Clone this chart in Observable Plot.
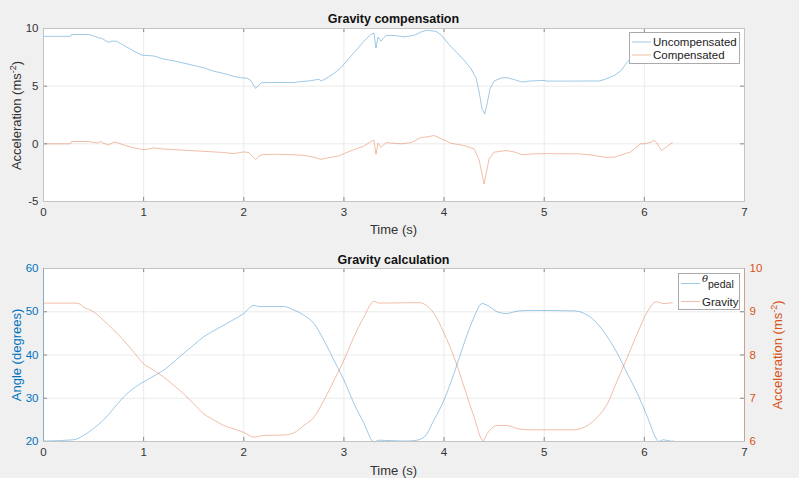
<!DOCTYPE html>
<html>
<head>
<meta charset="utf-8">
<script src="https://cdn.jsdelivr.net/npm/d3@7"></script>
<script src="https://cdn.jsdelivr.net/npm/@observablehq/plot@0.6"></script>
<style>
  html, body { margin: 0; padding: 0; background: #f0f0f0; }
  #chart { width: 799px; height: 478px; background: #f0f0f0; }
  #chart svg { display: block; }
</style>
</head>
<body>
<div id="chart"></div>
<script>
// ---------- Data ----------
const xTicks = [0, 1, 2, 3, 4, 5, 6, 7];
const topYTicks = [-5, 0, 5, 10];
const angleTicks = [20, 30, 40, 50, 60];
const gravityTicks = [6, 7, 8, 9, 10];

const uncompTime = [0, 0.27, 0.28, 0.45, 0.5, 0.55, 0.58, 0.62, 0.65, 0.68, 0.73, 0.78, 0.85, 0.92, 0.98, 1.05, 1.1, 1.2, 1.3, 1.4, 1.5, 1.6, 1.7, 1.8, 1.9, 1.97, 2.03, 2.07, 2.1, 2.12, 2.15, 2.18, 2.3, 2.5, 2.57, 2.65, 2.72, 2.75, 2.77, 2.82, 2.9, 2.97, 3.05, 3.12, 3.2, 3.27, 3.3, 3.32, 3.34, 3.37, 3.42, 3.5, 3.6, 3.7, 3.77, 3.83, 3.92, 3.97, 4.05, 4.13, 4.2, 4.27, 4.32, 4.35, 4.38, 4.405, 4.43, 4.46, 4.5, 4.57, 4.62, 4.7, 4.78, 4.85, 5.0, 5.02, 5.3, 5.55, 5.6, 5.7, 5.77, 5.83, 5.9, 5.97, 6.05, 6.12, 6.17, 6.24, 6.28];
const uncompValues = [9.32, 9.32, 9.48, 9.48, 9.35, 9.2, 9.15, 8.95, 8.8, 8.9, 8.9, 8.65, 8.3, 7.95, 7.7, 7.65, 7.62, 7.35, 7.2, 7.0, 6.8, 6.6, 6.3, 6.1, 5.85, 5.73, 5.7, 5.5, 5.05, 4.8, 5.1, 5.3, 5.32, 5.32, 5.4, 5.45, 5.55, 5.6, 5.45, 5.65, 6.1, 6.6, 7.4, 8.1, 8.9, 9.5, 9.6, 8.3, 9.25, 8.9, 9.4, 9.4, 9.28, 9.4, 9.7, 9.85, 9.75, 9.45, 8.6, 7.9, 7.25, 6.5, 5.7, 4.5, 3.0, 2.6, 3.5, 4.8, 5.45, 5.7, 5.75, 5.57, 5.35, 5.44, 5.5, 5.44, 5.44, 5.45, 5.57, 5.93, 6.36, 7.1, 7.7, 8.4, 8.9, 9.3, 8.8, 9.1, 9.3];

const compTime = [0, 0.27, 0.28, 0.45, 0.52, 0.55, 0.57, 0.6, 0.65, 0.7, 0.74, 0.8, 0.9, 1.0, 1.05, 1.1, 1.2, 1.3, 1.4, 1.5, 1.6, 1.7, 1.8, 1.9, 2.0, 2.05, 2.1, 2.12, 2.15, 2.18, 2.3, 2.5, 2.6, 2.72, 2.77, 2.85, 2.95, 3.0, 3.1, 3.2, 3.27, 3.3, 3.32, 3.34, 3.37, 3.42, 3.5, 3.57, 3.67, 3.77, 3.83, 3.9, 3.97, 4.07, 4.2, 4.3, 4.35, 4.4, 4.45, 4.5, 4.62, 4.7, 4.78, 4.88, 5.0, 5.35, 5.48, 5.6, 5.7, 5.8, 5.86, 5.96, 6.0, 6.06, 6.1, 6.13, 6.17, 6.24, 6.28];
const compValues = [0, 0, 0.2, 0.2, 0.1, 0.1, 0.22, 0.05, -0.1, 0.15, 0.1, -0.1, -0.35, -0.5, -0.45, -0.35, -0.45, -0.5, -0.55, -0.6, -0.65, -0.7, -0.75, -0.85, -0.7, -0.75, -1.2, -1.35, -1.1, -0.95, -0.9, -0.95, -1.0, -1.2, -1.35, -1.2, -1.05, -0.85, -0.5, -0.2, 0.2, 0.3, -0.9, 0.05, -0.3, 0.1, 0.05, 0, 0.1, 0.55, 0.6, 0.72, 0.45, 0.05, -0.15, -0.43, -1.4, -3.47, -1.3, -0.72, -0.58, -0.7, -0.95, -0.87, -0.85, -0.87, -0.98, -1.16, -1.16, -0.87, -0.72, 0, 0, 0.14, 0.3, 0.0, -0.58, -0.15, 0.1];

const angleTime = [0, 0.3, 0.4, 0.5, 0.6, 0.7, 0.8, 0.9, 1.0, 1.1, 1.2, 1.3, 1.4, 1.5, 1.6, 1.7, 1.8, 1.9, 2.0, 2.1, 2.15, 2.4, 2.5, 2.6, 2.7, 2.8, 2.9, 3.0, 3.1, 3.2, 3.3, 3.35, 3.6, 3.7, 3.8, 3.9, 4.0, 4.1, 4.2, 4.3, 4.38, 4.43, 4.53, 4.62, 4.75, 4.88, 5.3, 5.4, 5.53, 5.63, 5.73, 5.83, 5.93, 6.03, 6.12, 6.14, 6.19, 6.26, 6.29];
const angleValues = [20.1, 20.4, 21.4, 23, 25, 27.6, 30.3, 32.3, 33.8, 35.1, 36.5, 38.4, 40.4, 42.3, 44.2, 45.6, 46.9, 48.2, 49.6, 51.5, 51.2, 51.2, 50.4, 49.2, 47.3, 43.4, 38.8, 34.2, 28.8, 24.2, 19.9, 20.3, 20.1, 20.2, 21, 25, 29.6, 35.8, 42.7, 48.8, 51.9, 51.5, 50, 49.6, 50.2, 50.3, 50.2, 49.6, 47.3, 44.2, 40.4, 35.7, 31.1, 25.7, 20.6, 20, 20.4, 20.1, 20.1];

const gravityTime = [0, 0.3, 0.35, 0.4, 0.5, 0.6, 0.7, 0.8, 0.9, 1.0, 1.1, 1.2, 1.3, 1.4, 1.5, 1.6, 1.7, 1.8, 1.9, 2.0, 2.1, 2.2, 2.4, 2.5, 2.6, 2.7, 2.8, 2.9, 3.0, 3.1, 3.2, 3.3, 3.35, 3.75, 3.8, 3.9, 4.0, 4.1, 4.2, 4.3, 4.39, 4.43, 4.53, 4.62, 4.75, 4.88, 5.3, 5.4, 5.53, 5.63, 5.73, 5.83, 5.93, 6.03, 6.12, 6.19, 6.28];
const gravityValues = [9.2, 9.2, 9.19, 9.11, 9.0, 8.8, 8.58, 8.34, 8.07, 7.8, 7.65, 7.49, 7.3, 7.1, 6.87, 6.64, 6.5, 6.37, 6.29, 6.21, 6.1, 6.14, 6.15, 6.2, 6.37, 6.56, 6.95, 7.41, 7.88, 8.42, 8.88, 9.24, 9.2, 9.21, 9.18, 8.96, 8.5, 7.95, 7.26, 6.56, 6.02, 6.18, 6.37, 6.37, 6.29, 6.27, 6.27, 6.33, 6.56, 6.87, 7.41, 7.95, 8.5, 9.0, 9.23, 9.19, 9.21];

// ---------- Styling ----------
const BLUE = "#0072BD";
const ORANGE = "#D95319";
const FONT = "'Liberation Sans', Arial, Helvetica, sans-serif";
const TEXT = "#333333";
const GRID = "#ebebeb";
const BOX = "#c4c4c4";
const LINE_OP = 0.38;
const W = 799;

const uncomp = uncompTime.map((t, i) => ({t, v: uncompValues[i]}));
const comp = compTime.map((t, i) => ({t, v: compValues[i]}));
const angle = angleTime.map((t, i) => ({t, v: angleValues[i]}));
const gravity = gravityTime.map((t, i) => ({t, v: gravityValues[i]}));

// gravity (right axis 6..10) mapped onto the left axis range (20..60)
const gToA = g => angleTicks[0] + (g - gravityTicks[0]) * (angleTicks[4] - angleTicks[0]) / (gravityTicks[4] - gravityTicks[0]);
const fmt = d => String(d);

function inwardTicks(innerH, innerW, yt) {
  return [
    Plot.tickX(xTicks, {x: d => d, insetTop: innerH - 4, stroke: "#888"}),
    Plot.tickX(xTicks, {x: d => d, insetBottom: innerH - 4, stroke: "#888"}),
    Plot.tickY(yt, {y: d => d, insetRight: innerW - 4, stroke: "#888"}),
    Plot.tickY(yt, {y: d => d, insetLeft: innerW - 4, stroke: "#888"})
  ];
}

// ---------- Top chart ----------
const topH = 240, topMT = 28, topMB = 39, ML = 43, MR = 55;
const topPlot = Plot.plot({
  width: W, height: topH,
  marginLeft: ML, marginRight: MR, marginTop: topMT, marginBottom: topMB,
  style: {background: "transparent", fontFamily: FONT, fontSize: "11.5px", color: TEXT},
  x: {domain: [0, 7]},
  y: {domain: [-5, 10]},
  marks: [
    Plot.frame({fill: "white", stroke: null}),
    Plot.gridX(xTicks, {stroke: GRID, strokeOpacity: 1}),
    Plot.gridY(topYTicks, {stroke: GRID, strokeOpacity: 1}),
    Plot.axisX(xTicks, {tickSize: 0, tickPadding: 6, label: null, fill: TEXT, tickFormat: fmt}),
    Plot.axisY(topYTicks, {tickSize: 0, tickPadding: 5, label: null, fill: TEXT, tickFormat: fmt}),
    Plot.line(uncomp, {x: "t", y: "v", stroke: BLUE, strokeOpacity: LINE_OP, strokeWidth: 1}),
    Plot.line(comp, {x: "t", y: "v", stroke: ORANGE, strokeOpacity: LINE_OP, strokeWidth: 1}),
    ...inwardTicks(topH - topMT - topMB, W - ML - MR, topYTicks),
    Plot.frame({stroke: BOX})
  ]
});

// ---------- Bottom chart ----------
const botH = 238, botMT = 28, botMB = 37;
const botPlot = Plot.plot({
  width: W, height: botH,
  marginLeft: ML, marginRight: MR, marginTop: botMT, marginBottom: botMB,
  style: {background: "transparent", fontFamily: FONT, fontSize: "11.5px", color: TEXT},
  x: {domain: [0, 7]},
  y: {domain: [20, 60]},
  marks: [
    Plot.frame({fill: "white", stroke: null}),
    Plot.gridX(xTicks, {stroke: GRID, strokeOpacity: 1}),
    Plot.gridY(angleTicks, {stroke: GRID, strokeOpacity: 1}),
    Plot.axisX(xTicks, {tickSize: 0, tickPadding: 6, label: null, fill: TEXT, tickFormat: fmt}),
    Plot.axisY(angleTicks, {anchor: "left", tickSize: 0, tickPadding: 5, label: null, fill: BLUE, tickFormat: fmt}),
    Plot.axisY(angleTicks, {anchor: "right", tickSize: 0, tickPadding: 5, label: null, fill: ORANGE,
      tickFormat: (d, i) => String(gravityTicks[i])}),
    Plot.line(angle, {x: "t", y: "v", stroke: BLUE, strokeOpacity: LINE_OP, strokeWidth: 1, curve: "monotone-x"}),
    Plot.line(gravity, {x: "t", y: d => gToA(d.v), stroke: ORANGE, strokeOpacity: LINE_OP, strokeWidth: 1, curve: "monotone-x"}),
    ...inwardTicks(botH - botMT - botMB, W - ML - MR, angleTicks),
    Plot.frame({stroke: BOX}),
    Plot.ruleX([0], {stroke: BLUE, strokeOpacity: 0.3}),
    Plot.ruleX([7], {stroke: ORANGE, strokeOpacity: 0.3})
  ]
});

const chart = document.getElementById("chart");
chart.appendChild(topPlot);
chart.appendChild(botPlot);

// ---------- Text: titles, axis labels, legends ----------
const cx = (ML + (W - MR)) / 2;

function addTitle(svg, text, y) {
  svg.append("text").attr("x", cx).attr("y", y).attr("text-anchor", "middle")
    .attr("font-family", FONT).attr("font-size", "12.5px").attr("font-weight", "bold").attr("fill", "#111")
    .text(text);
}
function addXLabel(svg, y) {
  svg.append("text").attr("x", cx).attr("y", y).attr("text-anchor", "middle")
    .attr("font-family", FONT).attr("font-size", "13px").attr("fill", TEXT).text("Time (s)");
}
function addAccelLabel(svg, x, y, color) {
  const t = svg.append("text").attr("transform", `translate(${x},${y}) rotate(-90)`)
    .attr("text-anchor", "middle").attr("font-family", FONT).attr("font-size", "13px").attr("fill", color);
  t.append("tspan").text("Acceleration (ms");
  t.append("tspan").attr("dy", -5).attr("font-size", "9px").text("-2");
  t.append("tspan").attr("dy", 5).text(")");
}

const s1 = d3.select(topPlot);
addTitle(s1, "Gravity compensation", 23);
addXLabel(s1, 233.5);
addAccelLabel(s1, 21, 115.5, TEXT);

// top legend
const lg1 = s1.append("g").attr("text-anchor", "start");
lg1.append("rect").attr("x", 629.5).attr("y", 32.5).attr("width", 110).attr("height", 31)
  .attr("fill", "white").attr("stroke", "#aaaaaa");
[["Uncompensated", BLUE, 42], ["Compensated", ORANGE, 55]].forEach(([label, c, y]) => {
  lg1.append("line").attr("x1", 632).attr("x2", 651).attr("y1", y).attr("y2", y)
    .attr("stroke", c).attr("stroke-opacity", LINE_OP);
  lg1.append("text").attr("x", 653).attr("y", y + 4).attr("text-anchor", "start").attr("font-family", FONT)
    .attr("font-size", "11.5px").attr("fill", "#222").text(label);
});

const s2 = d3.select(botPlot);
addTitle(s2, "Gravity calculation", 23.5);
addXLabel(s2, 234.5);
s2.append("text").attr("transform", `translate(21,115) rotate(-90)`).attr("text-anchor", "middle")
  .attr("font-family", FONT).attr("font-size", "13px").attr("fill", BLUE).text("Angle (degrees)");
addAccelLabel(s2, 781.5, 115, ORANGE);

// bottom legend
const lg2 = s2.append("g").attr("text-anchor", "start");
lg2.append("rect").attr("x", 678.5).attr("y", 33.5).attr("width", 61).attr("height", 36)
  .attr("fill", "white").attr("stroke", "#aaaaaa");
lg2.append("line").attr("x1", 681).attr("x2", 700).attr("y1", 43.5).attr("y2", 43.5)
  .attr("stroke", BLUE).attr("stroke-opacity", LINE_OP);
const th = lg2.append("text").attr("x", 702).attr("y", 41.5).attr("text-anchor", "start").attr("font-family", FONT)
  .attr("font-size", "11px").attr("fill", "#222");
th.append("tspan").attr("font-family", "'DejaVu Serif', 'Liberation Serif', serif").attr("font-style", "italic")
  .attr("font-size", "10px").text("θ");
th.append("tspan").attr("dy", 6.5).attr("font-size", "10.5px").text("pedal");
lg2.append("line").attr("x1", 681).attr("x2", 700).attr("y1", 61.5).attr("y2", 61.5)
  .attr("stroke", ORANGE).attr("stroke-opacity", LINE_OP);
lg2.append("text").attr("x", 702).attr("y", 65.5).attr("text-anchor", "start").attr("font-family", FONT)
  .attr("font-size", "11.5px").attr("fill", "#222").text("Gravity");
</script>
</body>
</html>
